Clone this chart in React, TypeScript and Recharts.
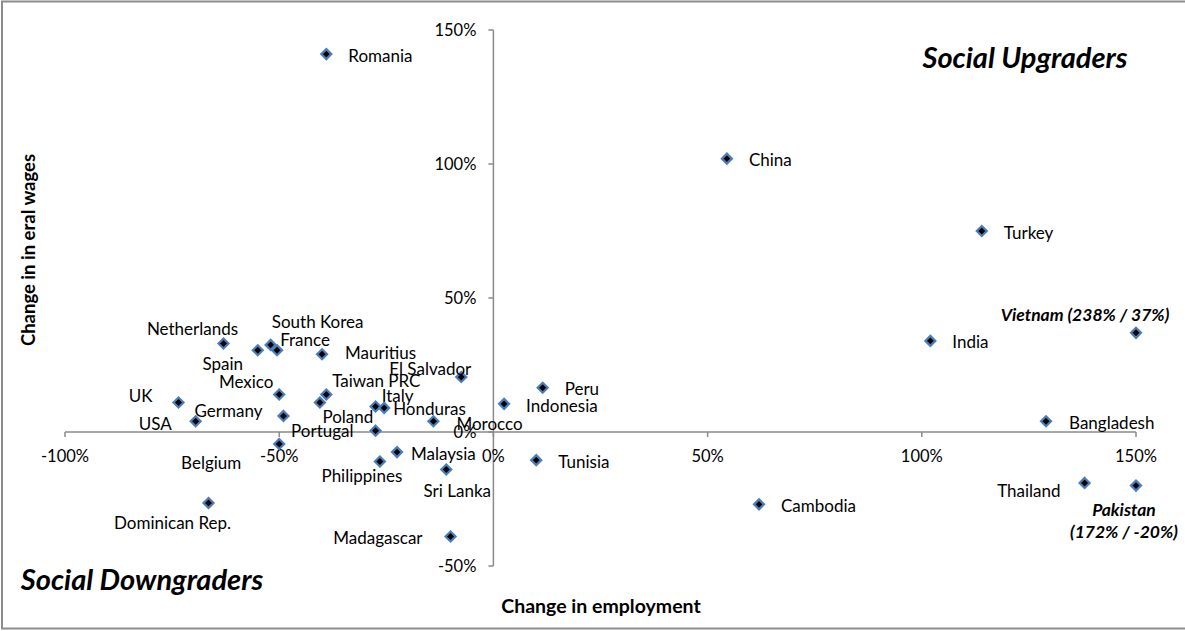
import React from 'react';
import { ScatterChart, Scatter, XAxis, YAxis, ReferenceLine, ReferenceDot } from 'recharts';

// ---- Data ----
const countries = [
  'Romania', 'China', 'Turkey', 'Vietnam', 'India', 'Bangladesh', 'Thailand', 'Pakistan', 'Cambodia',
  'Peru', 'Indonesia', 'Tunisia', 'Morocco', 'El Salvador', 'Sri Lanka', 'Madagascar',
  'Netherlands', 'Spain', 'South Korea', 'France', 'Mauritius', 'Mexico', 'Taiwan PRC', 'Poland',
  'UK', 'Germany', 'USA', 'Italy', 'Honduras', 'Portugal', 'Belgium', 'Malaysia', 'Philippines', 'Dominican Rep.',
];
// change in employment (%)
const employmentChange = [
  -39, 54.5, 114, 238, 102, 129, 138, 172, 62,
  11.5, 2.5, 10, -14, -7.5, -11, -10,
  -63, -55, -52, -50.5, -40, -50, -39, -40.5,
  -73.5, -49, -69.5, -27.5, -25.5, -27.5, -50, -22.5, -26.5, -66.5,
];
// change in real wages (%)
const wageChange = [
  141, 102, 75, 37, 34, 4, -19, -20, -27,
  16.5, 10.5, -10.5, 4, 20.5, -14, -39,
  33, 30.5, 32.5, 30.5, 29, 14, 14, 11,
  11, 6, 4, 9.5, 9, 0.5, -4.5, -7.5, -11, -26.5,
];
// countries shown with their real values because they fall beyond the axis
const highlighted = ['Vietnam', 'Pakistan'];

const xTicks = [-100, -50, 0, 50, 100, 150];
const yTicks = [-50, 0, 50, 100, 150];
const X_DOMAIN: [number, number] = [-100, 150];
const Y_DOMAIN: [number, number] = [-50, 150];

// ---- Label placement (relative to point) ----
type Lay = { a: 'start' | 'middle' | 'end'; dx: number; dy: number };
const labelLayout: Record<string, Lay> = {
  Romania: { a: 'start', dx: 22, dy: 1 },
  China: { a: 'start', dx: 22, dy: 1 },
  Turkey: { a: 'start', dx: 22, dy: 1 },
  Vietnam: { a: 'middle', dx: -51, dy: -18 },
  India: { a: 'start', dx: 22, dy: 1 },
  Bangladesh: { a: 'start', dx: 23, dy: 1 },
  Thailand: { a: 'end', dx: -24, dy: 8 },
  Pakistan: { a: 'middle', dx: -12, dy: 24 },
  Cambodia: { a: 'start', dx: 22, dy: 1 },
  Peru: { a: 'start', dx: 22, dy: 1 },
  Indonesia: { a: 'start', dx: 22, dy: 2 },
  Tunisia: { a: 'start', dx: 22, dy: 1 },
  Morocco: { a: 'start', dx: 23, dy: 2 },
  'El Salvador': { a: 'middle', dx: -31, dy: -9 },
  'Sri Lanka': { a: 'middle', dx: 11, dy: 21 },
  Madagascar: { a: 'end', dx: -28, dy: 1 },
  Netherlands: { a: 'middle', dx: -31, dy: -15 },
  Spain: { a: 'middle', dx: -35, dy: 13 },
  'South Korea': { a: 'middle', dx: 47, dy: -23 },
  France: { a: 'middle', dx: 28, dy: -11 },
  Mauritius: { a: 'start', dx: 23, dy: -2 },
  Mexico: { a: 'middle', dx: -33, dy: -13 },
  'Taiwan PRC': { a: 'middle', dx: 50, dy: -14 },
  Poland: { a: 'middle', dx: 28, dy: 14 },
  UK: { a: 'end', dx: -26, dy: -7 },
  Germany: { a: 'end', dx: -21, dy: -5 },
  USA: { a: 'end', dx: -24, dy: 2 },
  Italy: { a: 'middle', dx: 22, dy: -11 },
  Honduras: { a: 'start', dx: 9, dy: 1 },
  Portugal: { a: 'end', dx: -22, dy: 0 },
  Belgium: { a: 'middle', dx: -68, dy: 18 },
  Malaysia: { a: 'start', dx: 14, dy: 1 },
  Philippines: { a: 'middle', dx: -18, dy: 14 },
  'Dominican Rep.': { a: 'middle', dx: -36, dy: 19 },
};

const FONT = "Lato, 'Open Sans', sans-serif";
const AXIS_COLOR = '#8a8a8a';
const MARKER_STROKE = '#4A7EBB';

const data = countries.map((name, i) => ({
  name,
  x: Math.min(employmentChange[i], X_DOMAIN[1]),
  y: wageChange[i],
  emp: employmentChange[i],
  wage: wageChange[i],
}));

const fmt = (v: number) => `${v}%`;

const renderPoint = (p: any) => {
  const { cx, cy, payload } = p;
  if (cx == null || cy == null) return <g />;
  const lay = labelLayout[payload.name] || { a: 'start', dx: 22, dy: 1 };
  const h = 5;
  const isHi = highlighted.includes(payload.name);
  const diamond = (
    <polygon
      points={`${cx},${cy - h} ${cx + h},${cy} ${cx},${cy + h} ${cx - h},${cy}`}
      fill="#000"
      stroke={MARKER_STROKE}
      strokeWidth={2.2}
    />
  );
  if (isHi) {
    const lines = payload.name === 'Pakistan'
      ? [payload.name, `(${fmt(payload.emp)} / ${fmt(payload.wage)})`]
      : [`${payload.name} (${fmt(payload.emp)} / ${fmt(payload.wage)})`];
    return (
      <g>
        {diamond}
        {lines.map((t, k) => (
          <text
            key={k}
            x={cx + lay.dx}
            y={cy + lay.dy + k * 22}
            textAnchor={lay.a}
            dominantBaseline="central"
            fontFamily={FONT}
            fontSize={17.5}
            fontWeight={700}
            fontStyle="italic"
            fill="#000"
          >
            {t}
          </text>
        ))}
      </g>
    );
  }
  return (
    <g>
      {diamond}
      <text
        x={cx + lay.dx}
        y={cy + lay.dy}
        textAnchor={lay.a}
        dominantBaseline="central"
        fontFamily={FONT}
        fontSize={17}
        fill="#000"
      >
        {payload.name}
      </text>
    </g>
  );
};

const XTickShape = (p: any) => {
  const { cx, cy, value } = p;
  if (cx == null || cy == null) return <g />;
  return (
    <g>
      <line x1={cx} y1={cy} x2={cx} y2={cy + 5} stroke={AXIS_COLOR} strokeWidth={1.5} />
      <text x={cx} y={cy + 24} textAnchor="middle" dominantBaseline="central" fontFamily={FONT} fontSize={16.5} fill="#000">
        {fmt(value)}
      </text>
    </g>
  );
};

const YTickShape = (p: any) => {
  const { cx, cy, value } = p;
  if (cx == null || cy == null) return <g />;
  return (
    <g>
      <line x1={cx - 5} y1={cy} x2={cx} y2={cy} stroke={AXIS_COLOR} strokeWidth={1.5} />
      <text x={cx - 17} y={cy} textAnchor="end" dominantBaseline="central" fontFamily={FONT} fontSize={16.5} fill="#000">
        {fmt(value)}
      </text>
    </g>
  );
};

export default function App() {
  return (
    <div style={{ position: 'absolute', left: 0, top: 0, width: 1185, height: 631, background: '#fff', overflow: 'hidden' }}>
      <ScatterChart width={1185} height={631} margin={{ top: 30, right: 49, bottom: 65, left: 65 }}>
        <XAxis type="number" dataKey="x" domain={X_DOMAIN} hide />
        <YAxis type="number" dataKey="y" domain={Y_DOMAIN} hide />
        <ReferenceLine x={0} stroke={AXIS_COLOR} strokeWidth={1.5} />
        <ReferenceLine y={0} stroke={AXIS_COLOR} strokeWidth={1.5} />
        {xTicks.map((t) => (
          <ReferenceDot key={`xt${t}`} x={t} y={0} r={0} shape={(p: any) => <XTickShape {...p} value={t} />} />
        ))}
        {yTicks.map((t) => (
          <ReferenceDot key={`yt${t}`} x={0} y={t} r={0} shape={(p: any) => <YTickShape {...p} value={t} />} />
        ))}
        <Scatter data={data} isAnimationActive={false} shape={renderPoint} />
      </ScatterChart>
      <svg width={1185} height={631} style={{ position: 'absolute', left: 0, top: 0, pointerEvents: 'none' }}>
        <text x={1025} y={68} textAnchor="middle" fontFamily={FONT} fontSize={29} fontWeight={700} fontStyle="italic" fill="#000">
          Social Upgraders
        </text>
        <text x={142} y={590} textAnchor="middle" fontFamily={FONT} fontSize={29} fontWeight={700} fontStyle="italic" fill="#000">
          Social Downgraders
        </text>
        <text x={601} y={605} textAnchor="middle" dominantBaseline="central" fontFamily={FONT} fontSize={19.5} fontWeight={700} fill="#000">
          Change in employment
        </text>
        <text
          x={28}
          y={250}
          textAnchor="middle"
          dominantBaseline="central"
          transform="rotate(-90 28 250)"
          fontFamily={FONT}
          fontSize={18.5}
          fontWeight={700}
          fill="#000"
        >
          Change in in eral wages
        </text>
        <rect x={2} y={1.5} width={1195} height={627} fill="none" stroke="#8c8c8c" strokeWidth={2} />
      </svg>
    </div>
  );
}
